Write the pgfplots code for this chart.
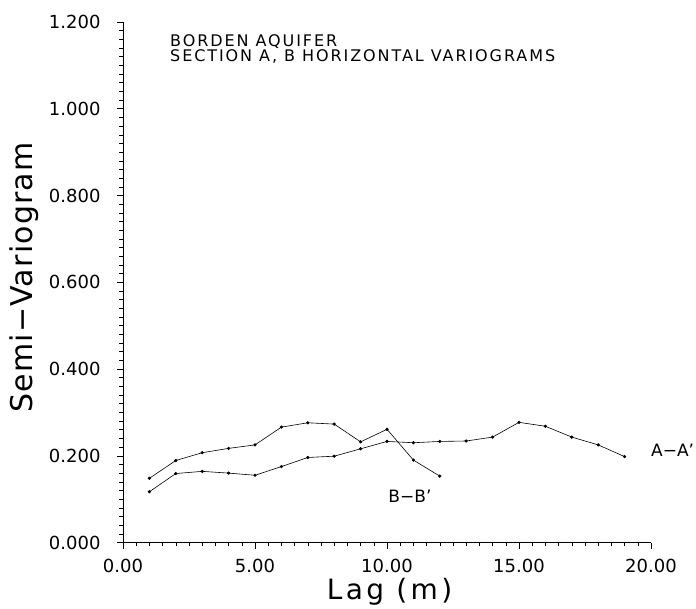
\documentclass[border=0pt]{standalone}
\usepackage{fontspec}
\setmainfont{DejaVu Sans}
\usepackage{pgfplots}
\pgfplotsset{compat=1.18}

\begin{document}
\begin{tikzpicture}
\useasboundingbox (-123pt,-65.5pt) rectangle (573pt,542.5pt);
\begin{axis}[at={(0,0)},anchor=south west,scale only axis,
  width=528pt,height=520.5pt,
  axis lines=left,axis line style={-,line width=0.6pt},
  xmin=0,xmax=20,ymin=0,ymax=1.2,
  xtick={0,5,10,15,20},ytick={0,0.2,0.4,0.6,0.8,1.0,1.2},
  minor x tick num=9,minor y tick num=9,
  tick align=outside,major tick length=6pt,minor tick length=3.5pt,
  tick style={black,line width=0.5pt},
  xticklabel style={yshift=-7pt,/pgf/number format/.cd,fixed,fixed zerofill,precision=2},
  yticklabel style={xshift=-13pt,/pgf/number format/.cd,fixed,fixed zerofill,precision=3},
  /pgf/number format/assume math mode=true,
  ticklabel style={font=\fontsize{18}{20}\selectfont},
  clip=false]
\addplot[black,line width=0.6pt,mark=*,mark size=1.3pt] coordinates {
(1,0.148)(2,0.189)(3,0.207)(4,0.217)(5,0.225)(6,0.266)(7,0.276)(8,0.273)(9,0.232)(10,0.261)(11,0.190)(12,0.153)};
\addplot[black,line width=0.6pt,mark=*,mark size=1.3pt] coordinates {
(1,0.117)(2,0.159)(3,0.164)(4,0.160)(5,0.155)(6,0.175)(7,0.196)(8,0.199)(9,0.216)(10,0.233)
(11,0.230)(12,0.233)(13,0.234)(14,0.243)(15,0.277)(16,0.268)(17,0.243)(18,0.225)(19,0.198)};
\node[anchor=west,inner sep=0pt,font=\fontsize{17}{18}\selectfont] at (axis cs:20.0,0.212) {A−A\char39};
\node[font=\fontsize{17}{18}\selectfont] at (axis cs:10.87,0.107) {B−B\char39};
\node[anchor=base west,inner sep=0pt,font=\fontsize{16}{17}\selectfont\addfontfeatures{LetterSpace=12}] at (axis cs:1.78,1.144) {BORDEN AQUIFER};
\node[anchor=base west,inner sep=0pt,font=\fontsize{16}{17}\selectfont\addfontfeatures{LetterSpace=12}] at (axis cs:1.78,1.108) {SECTION A, B HORIZONTAL VARIOGRAMS};
\node[rotate=90,anchor=base,inner sep=0pt,font=\fontsize{30}{32}\selectfont\addfontfeatures{LetterSpace=4}] at (axis cs:-3.41,0.611) {Semi−Variogram};
\node[anchor=base,inner sep=0pt,font=\fontsize{28}{30}\selectfont\addfontfeatures{LetterSpace=12}] at (axis cs:10.1,-0.1325) {Lag (m)};
\end{axis}
\end{tikzpicture}
\end{document}
